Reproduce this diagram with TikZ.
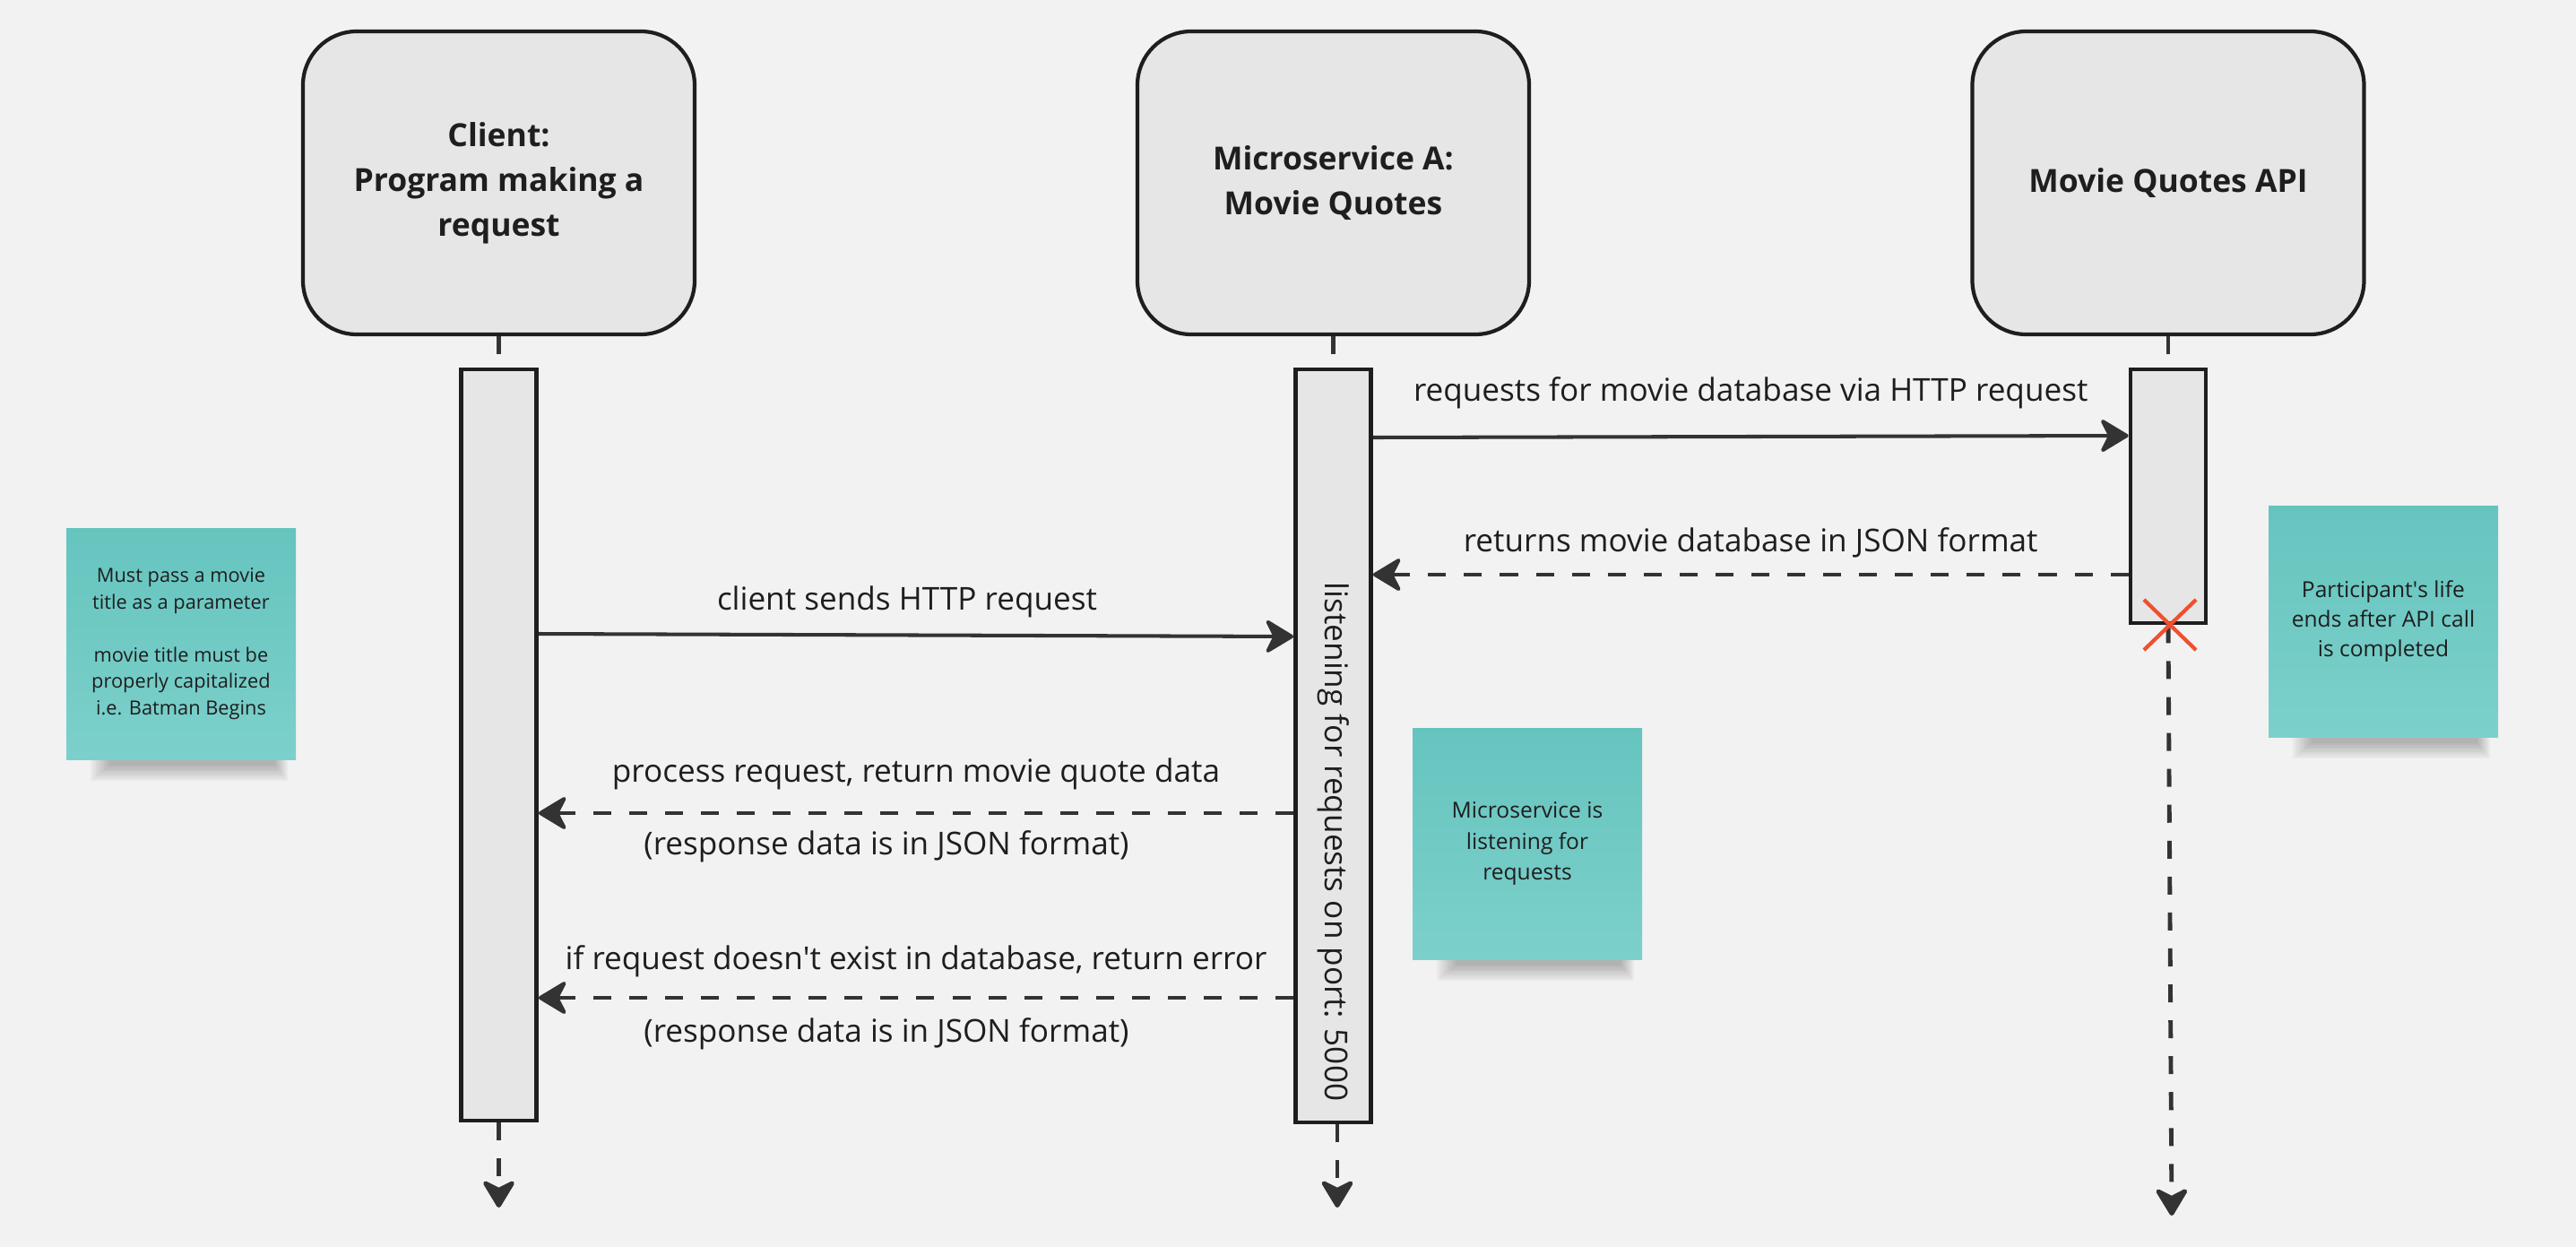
\documentclass[tikz,border=0pt]{standalone}
\usepackage{fontspec}
\setmainfont{Open Sans}
\usetikzlibrary{arrows.meta, shapes.misc}
\definecolor{bgcol}{HTML}{F2F2F2}
\definecolor{boxfill}{HTML}{E6E6E6}
\definecolor{edgecol}{HTML}{1E1E1E}
\definecolor{linecol}{HTML}{333333}
\definecolor{stickytop}{HTML}{66C4BE}
\definecolor{stickybot}{HTML}{7CD0CB}
\definecolor{endred}{HTML}{F0502F}
\pgfdeclarelayer{bg}
\pgfdeclarelayer{shade}
\pgfsetlayers{bg,shade,main}

\begin{document}
\begin{tikzpicture}[
    headtip/.style={-{Stealth[length=10pt, width=12pt, inset=3pt, round]}},
    partbox/.style={draw=edgecol, fill=boxfill, line width=1.2pt, rounded corners=0.6cm,
        minimum width=4.37cm, minimum height=3.38cm, align=center, text=edgecol,
        font=\fontsize{10.1}{14.2}\selectfont\bfseries},
    actbar/.style={draw=edgecol, fill=boxfill, line width=1.35pt, minimum width=0.84cm, inner sep=0pt},
    msg/.style={draw=linecol, line width=1.15pt, headtip},
    reply/.style={msg, dash pattern=on 5.7pt off 5.7pt},
    life/.style={draw=linecol, line width=1.4pt, dash pattern=on 5.7pt off 5.7pt},
    lbl/.style={font=\fontsize{10}{12}\selectfont, text=edgecol},
    sticky/.style={top color=stickytop, bottom color=stickybot, minimum width=2.56cm,
        minimum height=2.58cm, align=center, text=edgecol}
]
    \begin{pgfonlayer}{bg}
        \fill[bgcol] (0,0) rectangle (28.74,-13.91);
    \end{pgfonlayer}
    \useasboundingbox (0,0) rectangle (28.74,-13.91);

    \node[partbox] (client) at (5.565,-2.04) {Client:\\Program making a\\request};
    \node[partbox] (micro) at (14.875,-2.04) {Microservice A:\\Movie Quotes};
    \node[partbox] (api) at (24.19,-2.04) {Movie Quotes API};

    \node[actbar, minimum height=8.38cm] (clientAct) at (5.565,-8.31) {};
    \node[actbar, minimum height=8.40cm] (microAct) at (14.875,-8.32) {};
    \node[actbar, minimum height=2.83cm] (apiAct) at (24.19,-5.535) {};

    \coordinate (clientEnd) at (5.565,-13.47);
    \coordinate (microEnd) at (14.92,-13.47);
    \coordinate (apiEnd) at (24.23,-13.56);

    \draw[life] (client.south) -- (clientAct.north);
    \draw[life] (micro.south) -- (microAct.north);
    \draw[life] (api.south) -- (apiAct.north);
    \draw[life, headtip] (clientAct.south) -- (clientEnd);
    \draw[life, headtip] (microAct.south -| microEnd) -- (microEnd);
    \draw[life, headtip] (apiAct.south) -- (apiEnd);

    \node[cross out, draw=endred, line width=1.2pt, minimum width=0.54cm, minimum height=0.52cm,
        inner sep=0pt] (apiStop) at (24.21,-6.97) {};

    \node[lbl, rotate=-90] (listenTxt) at (14.875,-9.39) {listening for requests on port: 5000};

    \draw[msg] (microAct.east |- 0,-4.88) -- (apiAct.west |- 0,-4.86)
        node[lbl, midway, yshift=0.49cm] {requests for movie database via HTTP request};
    \draw[reply] (apiAct.west |- 0,-6.41) -- (microAct.east |- 0,-6.41)
        node[lbl, midway, yshift=0.36cm] {returns movie database in JSON format};
    \draw[msg] (clientAct.east |- 0,-7.07) -- (microAct.west |- 0,-7.10)
        node[lbl, midway, yshift=0.37cm, xshift=-0.1cm] {client sends HTTP request};
    \draw[reply] (microAct.west |- 0,-9.07) -- (clientAct.east |- 0,-9.07)
        node[lbl, midway, yshift=0.44cm] {process request, return movie quote data}
        node[lbl, midway, yshift=-0.37cm, xshift=-0.33cm] {(response data is in JSON format)};
    \draw[reply] (microAct.west |- 0,-11.13) -- (clientAct.east |- 0,-11.13)
        node[lbl, midway, yshift=0.41cm] {if request doesn\textquotesingle t exist in database, return error}
        node[lbl, midway, yshift=-0.40cm, xshift=-0.33cm] {(response data is in JSON format)};

    \node[sticky, font=\fontsize{6.2}{8.4}\selectfont] (noteClient) at (2.02,-7.18)
        {Must pass a movie\\title as a parameter\\[8.4pt]movie title must be\\properly capitalized\\i.e. Batman Begins};
    \node[sticky, font=\fontsize{7}{9.9}\selectfont] (noteMicro) at (17.04,-9.41)
        {Microservice is\\listening for\\requests};
    \node[sticky, font=\fontsize{7}{9.4}\selectfont] (noteApi) at (26.59,-6.93)
        {Participant\textquotesingle s life\\ends after API call\\is completed};

    % soft shadow under the notes
    \begin{pgfonlayer}{shade}
        \foreach \n in {noteClient, noteMicro, noteApi}
            \foreach \k in {1,...,8}
                \fill[black, opacity=0.035]
                    ([xshift=0.25cm+\k*0.03cm, yshift=0.1cm]\n.south west)
                    rectangle ([xshift=-0.08cm-\k*0.02cm, yshift=-0.26cm+\k*0.025cm]\n.south east);
    \end{pgfonlayer}
\end{tikzpicture}
\end{document}
